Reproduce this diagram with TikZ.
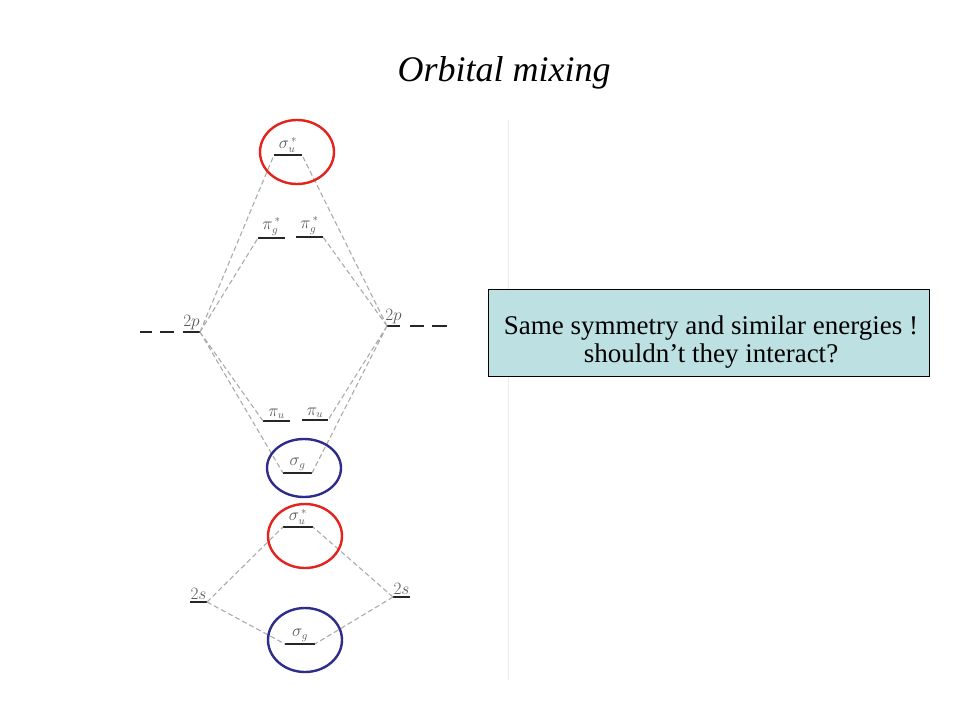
\documentclass[tikz,border=0pt]{standalone}
\usepackage{fontspec}
\setmainfont{Liberation Serif}
\usetikzlibrary{positioning,shapes.geometric}
\definecolor{boxblue}{HTML}{BDE0E3}
\definecolor{ringred}{HTML}{E4231E}
\definecolor{ringblue}{HTML}{2D2D8C}

\begin{document}
\begin{tikzpicture}[x=1pt,y=-1pt,
    level/.style={line width=1.7pt, black!85},
    corr/.style={gray!65, line width=1.1pt, dash pattern=on 5pt off 3pt},
    lab/.style={font=\fontsize{16}{16}\selectfont, black!65, anchor=south, inner sep=1.5pt},
    ring/.style={draw=#1, line width=2.4pt, ellipse, minimum width=74pt, minimum height=64pt, inner sep=0pt}]
  \path[fill=white] (0,0) rectangle (960,720);
  \node[font=\itshape\fontsize{36}{42}\selectfont] (title) at (504,73) {Orbital mixing};
  \draw[black!8] (508,120) -- (508,680);

  % levels from 2p
  \coordinate (su2p-l) at (274,155); \coordinate (su2p-r) at (302,155);
  \coordinate (pgL-l) at (258,238);  \coordinate (pgL-r) at (285,238);
  \coordinate (pgR-l) at (296,237);  \coordinate (pgR-r) at (323,237);
  \coordinate (p2L-l) at (183,332);  \coordinate (p2L-r) at (200,332);
  \coordinate (p2R-l) at (387,326);  \coordinate (p2R-r) at (400,326);
  \coordinate (puL-l) at (263,421);  \coordinate (puL-r) at (290,421);
  \coordinate (puR-l) at (302,420);  \coordinate (puR-r) at (328,420);
  \coordinate (sg2p-l) at (283,473); \coordinate (sg2p-r) at (312,473);
  % levels from 2s
  \coordinate (su2s-l) at (283,527); \coordinate (su2s-r) at (313,527);
  \coordinate (s2L-l) at (190,602);  \coordinate (s2L-r) at (207,602);
  \coordinate (s2R-l) at (393,597);  \coordinate (s2R-r) at (410,597);
  \coordinate (sg2s-l) at (285,644); \coordinate (sg2s-r) at (315,644);

  \draw[level] (su2p-l) -- node[lab] (su2p) {$\sigma_u^{\,*}$} (su2p-r);
  \draw[level] (pgL-l) -- node[lab] (pgL) {$\pi_g^{\,*}$} (pgL-r);
  \draw[level] (pgR-l) -- node[lab] (pgR) {$\pi_g^{\,*}$} (pgR-r);
  \draw[level] (p2L-l) -- node[lab] (p2L) {$2p$} (p2L-r);
  \draw[level] (p2R-l) -- node[lab] (p2R) {$2p$} (p2R-r);
  \draw[level] (140,332) -- (152,332) (160,332) -- (174,332);
  \draw[level] (410,326) -- (424,326) (432,326) -- (447,326);
  \draw[level] (puL-l) -- node[lab] (puL) {$\pi_u$} (puL-r);
  \draw[level] (puR-l) -- node[lab] (puR) {$\pi_u$} (puR-r);
  \draw[level] (sg2p-l) -- node[lab] (sg2p) {$\sigma_g$} (sg2p-r);
  \draw[level] (su2s-l) -- node[lab] (su2s) {$\sigma_u^{\,*}$} (su2s-r);
  \draw[level] (s2L-l) -- node[lab] (s2L) {$2s$} (s2L-r);
  \draw[level] (s2R-l) -- node[lab] (s2R) {$2s$} (s2R-r);
  \draw[level] (sg2s-l) -- node[lab] (sg2s) {$\sigma_g$} (sg2s-r);

  % correlation lines
  \draw[corr] (p2L-r) -- (su2p-l) (p2L-r) -- (pgL-l) (p2L-r) -- (puL-l) (p2L-r) -- (sg2p-l);
  \draw[corr] (p2R-l) -- (su2p-r) (p2R-l) -- (pgR-r) (p2R-l) -- (puR-r) (p2R-l) -- (sg2p-r);
  \draw[corr] (s2L-r) -- (su2s-l) (s2L-r) -- (sg2s-l);
  \draw[corr] (s2R-l) -- (su2s-r) (s2R-l) -- (sg2s-r);

  % rings
  \node[ring=ringred] (ring1) at (297,152) {};
  \node[ring=ringblue, minimum height=58pt] (ring2) at (304,468) {};
  \node[ring=ringred] (ring3) at (305,536) {};
  \node[ring=ringblue] (ring4) at (305,640) {};

  \node[draw, fill=boxblue, minimum width=441pt, minimum height=87pt] (note) at (708.5,332.5) {};
  \node[align=center, font=\fontsize{27}{28}\selectfont] (notetext) at (711,342)
        {Same symmetry and similar energies !\\ shouldn’t they interact?};
\end{tikzpicture}
\end{document}
